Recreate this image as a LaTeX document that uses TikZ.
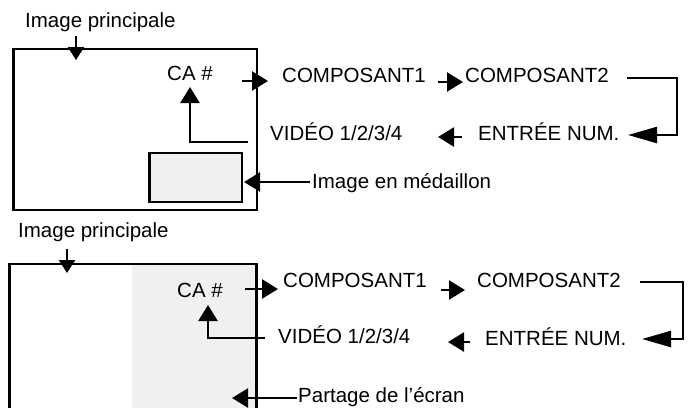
\documentclass[tikz,border=0pt]{standalone}
\usepackage{fontspec}
\setmainfont{Liberation Sans}
\usetikzlibrary{arrows.meta}
\definecolor{panelgray}{RGB}{240,240,240}
\tikzset{
  lbl/.style={anchor=base west, inner sep=0pt, font=\fontsize{20.5}{24}\selectfont},
  frame/.style={line width=2.6pt},
  conn/.style={line width=2.4pt, -{Triangle[length=16pt,width=19pt]}},
  longconn/.style={line width=2.4pt, -{Triangle[length=29pt,width=16pt]}},
  downconn/.style={line width=2.4pt, -{Triangle[length=13pt,width=16pt]}},
}
\begin{document}
\begin{tikzpicture}[x=1pt,y=-1pt]
\useasboundingbox (0,0) rectangle (692,407);

% ---------- top panel ----------
\draw[frame] (13.5,49) rectangle (257,210);
\draw[frame, fill=panelgray] (149.5,153) rectangle (242,202);

\node[lbl] (ipA) at (25,27) {Image principale};
\node[lbl] (caA) at (167,80) {CA \#};
\node[lbl] (c1A) at (282,82) {COMPOSANT1};
\node[lbl] (c2A) at (465,82) {COMPOSANT2};
\node[lbl] (enA) at (478,140) {ENTRÉE NUM.};
\node[lbl] (viA) at (270,140) {VIDÉO 1/2/3/4};
\node[lbl] (meA) at (312,188) {Image en médaillon};

\coordinate (ipAs) at (76,36);  \coordinate (ipAe) at (76,60);
\coordinate (caAs) at (242,81); \coordinate (caAe) at (268,81);
\coordinate (c1As) at (438,82); \coordinate (c1Ae) at (463,82);
\coordinate (c2As) at (627,78); \coordinate (c2Am) at (677,78);
\coordinate (enAm) at (677,135); \coordinate (enAe) at (628,135);
\coordinate (enAs) at (462,137); \coordinate (viAe) at (438,137);
\coordinate (viAs) at (248,142); \coordinate (viAm) at (190,142);
\coordinate (caAt) at (190,87);
\coordinate (meAs) at (310,182); \coordinate (meAe) at (244,182);

\draw[downconn] (ipAs) -- (ipAe);
\draw[conn] (caAs) -- (caAe);
\draw[conn] (c1As) -- (c1Ae);
\draw[longconn] (c2As) -- (c2Am) -- (enAm) -- (enAe);
\draw[conn] (enAs) -- (viAe);
\draw[conn] (viAs) -- (viAm) -- (caAt);
\draw[conn] (meAs) -- (meAe);

% ---------- bottom panel ----------
\fill[panelgray] (132,264) rectangle (256,412);
\draw[frame] (9.5,412) -- (9.5,264) -- (256.5,264) -- (256.5,412);

\node[lbl] (ipB) at (18,237) {Image principale};
\node[lbl] (caB) at (177,297) {CA \#};
\node[lbl] (c1B) at (283,287) {COMPOSANT1};
\node[lbl] (c2B) at (477,287) {COMPOSANT2};
\node[lbl] (enB) at (485,345) {ENTRÉE NUM.};
\node[lbl] (viB) at (278,343) {VIDÉO 1/2/3/4};
\node[lbl] (paB) at (298,402.5) {Partage de l’écran};

\coordinate (ipBs) at (67,249);  \coordinate (ipBe) at (67,273);
\coordinate (caBs) at (245,289); \coordinate (caBe) at (278,289);
\coordinate (c1Bs) at (441,290); \coordinate (c1Be) at (465,290);
\coordinate (c2Bs) at (640,282); \coordinate (c2Bm) at (683,282);
\coordinate (enBm) at (683,339); \coordinate (enBe) at (642,339);
\coordinate (enBs) at (470,342); \coordinate (viBe) at (448,342);
\coordinate (viBs) at (265,338); \coordinate (viBm) at (208,338);
\coordinate (caBt) at (208,305);
\coordinate (paBs) at (297,398); \coordinate (paBe) at (232,398);

\draw[downconn] (ipBs) -- (ipBe);
\draw[conn] (caBs) -- (caBe);
\draw[conn] (c1Bs) -- (c1Be);
\draw[longconn] (c2Bs) -- (c2Bm) -- (enBm) -- (enBe);
\draw[conn] (enBs) -- (viBe);
\draw[conn] (viBs) -- (viBm) -- (caBt);
\draw[conn] (paBs) -- (paBe);
\end{tikzpicture}
\end{document}
